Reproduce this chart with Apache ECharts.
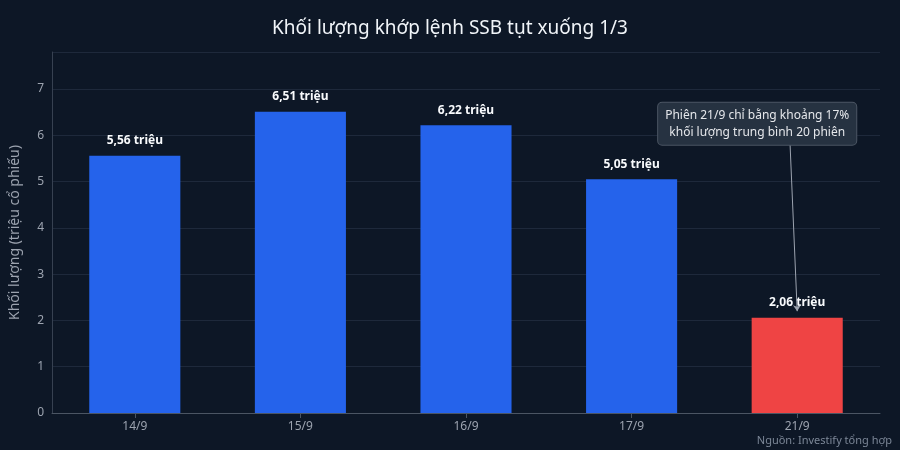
<!DOCTYPE html>
<html><head><meta charset="utf-8">
<script src="https://cdn.jsdelivr.net/npm/echarts@6/dist/echarts.min.js"></script>
<style>html,body{margin:0;background:#0d1726;}#c{width:900px;height:450px;}</style>
</head><body><div id="c"></div>
<script>
const categories = ['14/9','15/9','16/9','17/9','21/9'];
const values = [5.56, 6.51, 6.22, 5.05, 2.06];
const labels = ['5,56 triệu','6,51 triệu','6,22 triệu','5,05 triệu','2,06 triệu'];
const colors = ['#2563eb','#2563eb','#2563eb','#2563eb','#ef4444'];
const chart = echarts.init(document.getElementById('c'));
const font = 'Noto Sans';
chart.setOption({
  backgroundColor: '#0d1726',
  textStyle: {fontFamily: font},
  title: {text: 'Khối lượng khớp lệnh SSB tụt xuống 1/3', left: 'center', top: 14,
    textStyle: {color: '#f1f5f9', fontSize: 19, fontWeight: 'normal', fontFamily: font}},
  graphic: [{type: 'text', right: 8, bottom: 4, style: {text: 'Nguồn: Investify tổng hợp', fill: '#7c8797', fontSize: 11, fontFamily: font}}],
  grid: {left: 50, right: 20, top: 52, bottom: 37},
  xAxis: {type: 'category', data: categories,
    axisLine: {lineStyle: {color: '#4b5563'}}, axisTick: {show: true, alignWithLabel: true, lineStyle: {color: '#4b5563'}},
    axisLabel: {color: '#9ca3af', fontSize: 12}},
  yAxis: {type: 'value', min: 0, max: 7.8, interval: 1,
    name: 'Khối lượng (triệu cổ phiếu)', nameLocation: 'middle', nameGap: 30,
    nameTextStyle: {color: '#9ca3af', fontSize: 14},
    axisLine: {show: true, lineStyle: {color: '#374151'}},
    axisLabel: {color: '#9ca3af', fontSize: 12, showMaxLabel: false},
    splitLine: {lineStyle: {color: '#1e293b'}}},
  series: [{type: 'bar', barWidth: '55%',
    data: values.map((v, i) => ({value: v, itemStyle: {color: colors[i]},
      label: {show: true, position: 'top', distance: 9, formatter: labels[i], color: '#f8fafc', fontWeight: 'bold', fontSize: 12}})),
    markLine: {silent: true, symbol: ['none', 'arrow'], symbolSize: 6,
      lineStyle: {color: '#9ca3af', type: 'solid', width: 1}, label: {show: false},
      data: [[{coord: ['21/9', 5.83], x: 790}, {coord: ['21/9', 2.2]}]]},
    markPoint: {symbol: 'rect', symbolSize: 1, itemStyle: {color: 'transparent'},
      data: [{coord: ['21/9', 6.25],
        label: {show: true, offset: [-40, 0], formatter: 'Phiên 21/9 chỉ bằng khoảng 17%\nkhối lượng trung bình 20 phiên',
          color: '#e5e7eb', fontSize: 12, lineHeight: 17, align: 'center',
          backgroundColor: '#263241', borderColor: '#4b5563', borderWidth: 1, borderRadius: 4, padding: [4, 7]}}]}
  }]
});
</script></body></html>
